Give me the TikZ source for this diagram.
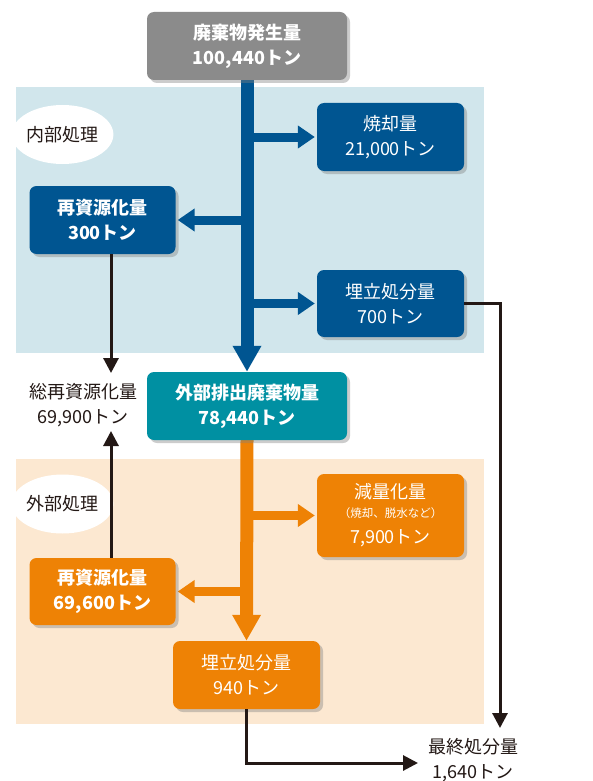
\documentclass[tikz,border=0pt]{standalone}
\usepackage{fontspec}
\setmainfont{Noto Sans CJK JP}
\usetikzlibrary{arrows.meta,shadows,shapes.geometric}
\definecolor{cgray}{HTML}{8B8B8B}
\definecolor{cblue}{HTML}{005591}
\definecolor{cteal}{HTML}{0090A2}
\definecolor{corange}{HTML}{EE8205}
\definecolor{cltblue}{HTML}{D1E6EC}
\definecolor{cbeige}{HTML}{FCE8D1}
\definecolor{cdark}{HTML}{231815}
\pgfdeclarelayer{bg}
\pgfsetlayers{bg,main}
\tikzset{
  box/.style={rounded corners=7pt, inner sep=0pt, text=white, align=center,
    font=\fontsize{18}{25}\selectfont,
    drop shadow={opacity=0.4, shadow xshift=3pt, shadow yshift=-3pt}},
  wbox/.style={box, minimum width=200pt, minimum height=68pt},
  sbox/.style={box, minimum width=147pt, minimum height=68pt},
  bbox/.style={font=\fontsize{18}{25}\selectfont\bfseries},
  lbl/.style={text=cdark, align=center, font=\fontsize{18}{25}\selectfont, inner sep=0pt},
  zone/.style={ellipse, fill=white, minimum width=87pt, minimum height=59pt, inner sep=0pt,
    text=cdark, font=\fontsize{18}{22}\selectfont},
  trunk/.style={line width=13pt, -{Triangle[length=26pt,width=27pt]}},
  side/.style={line width=9pt, -{Triangle[length=17pt,width=22pt]}},
  blk/.style={cdark, line width=3pt, -{Triangle[length=15pt,width=15pt]}},
}
\begin{document}
\begin{tikzpicture}[x=1pt,y=-1pt]
\useasboundingbox (0,0) rectangle (592,781);
\begin{pgfonlayer}{bg}
\fill[white] (0,0) rectangle (592,781);
\fill[cltblue] (16,87) rectangle (484,353);
\fill[cbeige] (16,459) rectangle (484,724);
\end{pgfonlayer}
\node[zone] (zin) at (62.5,134.5) {内部処理};
\node[zone] (zout) at (62.5,504) {外部処理};

\node[wbox, fill=cgray, bbox] (gen) at (247,46) {廃棄物発生量\\100,440トン};
\node[sbox, fill=cblue] (inc) at (390.5,137) {焼却量\\21,000トン};
\node[sbox, fill=cblue, minimum width=146pt, bbox] (rin) at (102.5,220) {再資源化量\\300トン};
\node[sbox, fill=cblue, minimum height=67pt] (lin) at (390.5,303.5) {埋立処分量\\700トン};
\node[wbox, fill=cteal, bbox] (ext) at (247,406) {外部排出廃棄物量\\78,440トン};
\node[sbox, fill=corange, minimum height=83pt] (red) at (390.5,515.5) {減量化量\\[-6pt]{\fontsize{11.5}{14}\selectfont （焼却、脱水など）}\\[1pt]7,900トン};
\node[sbox, fill=corange, minimum width=146pt, minimum height=67pt, bbox] (rout) at (102.5,591.5) {再資源化量\\69,600トン};
\node[sbox, fill=corange] (lout) at (246.5,675) {埋立処分量\\940トン};

\node[lbl] (tot) at (83,405) {総再資源化量\\69,900トン};
\node[lbl] (fin) at (473,760) {最終処分量\\1,640トン};

\begin{pgfonlayer}{bg}
\draw[trunk, cblue] (gen.south) -- (ext.north);
\draw[side, cblue] (gen.south |- inc.west) -- ([xshift=-2pt]inc.west);
\draw[side, cblue] (gen.south |- rin.east) -- ([xshift=2pt]rin.east);
\draw[side, cblue] (gen.south |- lin.west) -- ([xshift=-2pt]lin.west);
\draw[trunk, corange] (ext.south) -- (lout.north);
\draw[side, corange] (ext.south |- red.west) -- ([xshift=-2pt]red.west);
\draw[side, corange] (ext.south |- rout.east) -- ([xshift=2pt]rout.east);
\end{pgfonlayer}

\coordinate (c1) at (111,373);
\coordinate (c2) at (111,431);
\coordinate (c3) at (500,728);
\coordinate (c4) at (418,763);
\draw[blk] (rin.south -| c1) -- (c1);
\draw[blk] (rout.north -| c2) -- (c2);
\draw[blk] (lin.east) -| (c3);
\draw[blk] (lout.south) |- (c4);
\end{tikzpicture}
\end{document}
